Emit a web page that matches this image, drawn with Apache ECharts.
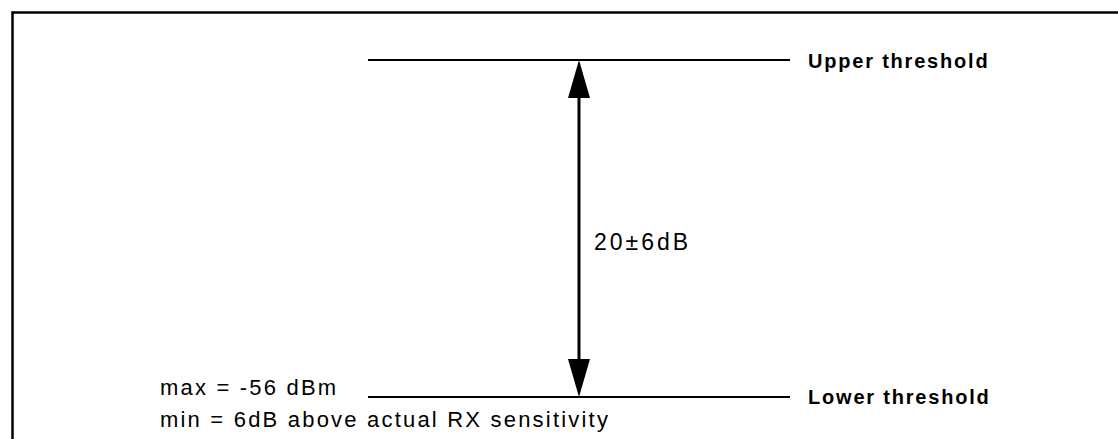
<!DOCTYPE html>
<html>
<head>
<meta charset="utf-8">
<script src="https://cdn.jsdelivr.net/npm/echarts@6/dist/echarts.min.js"></script>
<style>
  html, body { margin: 0; padding: 0; background: #fff; }
  #chart { width: 1118px; height: 439px; }
  #chart svg text { letter-spacing: 2.2px; }
  #chart svg text[style*="bold"] { letter-spacing: 1.8px; }
  #chart svg text[style*="23px"] { letter-spacing: 3px; }
</style>
</head>
<body>
<div id="chart"></div>
<script>
// ---- data ----
const thresholdNames = ['Upper threshold', 'Lower threshold'];
const thresholdValues = [20, 0];          // relative level, dB (lower threshold = 0)
const lineSpan = [0, 1];                  // horizontal extent of the threshold lines
const arrowPosition = [0.5];              // where the double arrow sits on the lines
const arrowLabel = ['20\u00B16dB'];
const lowerNotes = ['max = -56 dBm', 'min = 6dB above actual RX sensitivity'];

const chart = echarts.init(document.getElementById('chart'), null, { renderer: 'svg' });

const FONT = 'Liberation Sans, Arial, Helvetica, sans-serif';

const lineSeries = thresholdNames.map((name, i) => ({
  type: 'line',
  name: name,
  data: lineSpan.map(x => [x, thresholdValues[i]]),
  symbol: 'none',
  silent: true,
  animation: false,
  lineStyle: { color: '#000', width: 2 },
  endLabel: {
    show: true,
    formatter: name,
    distance: 18,
    offset: [0, i === 0 ? 1 : 0],
    color: '#000',
    fontFamily: FONT,
    fontWeight: 'bold',
    fontSize: 20
  }
}));

const arrowSeries = {
  type: 'custom',
  silent: true,
  animation: false,
  clip: false,
  data: arrowPosition.map(x => [x, thresholdValues[1], thresholdValues[0]]),
  renderItem: function (params, api) {
    const x = api.value(0);
    const pLow = api.coord([x, api.value(1)]);
    const pHigh = api.coord([x, api.value(2)]);
    const headH = 38, headW = 11;
    const children = [
      { type: 'line', shape: { x1: pHigh[0], y1: pHigh[1] + headH - 2, x2: pLow[0], y2: pLow[1] - headH + 2 },
        style: { stroke: '#000', lineWidth: 3 } },
      { type: 'polygon', shape: { points: [[pHigh[0], pHigh[1]], [pHigh[0] - headW, pHigh[1] + headH], [pHigh[0] + headW, pHigh[1] + headH]] },
        style: { fill: '#000' } },
      { type: 'polygon', shape: { points: [[pLow[0], pLow[1]], [pLow[0] - headW, pLow[1] - headH], [pLow[0] + headW, pLow[1] - headH]] },
        style: { fill: '#000' } },
      { type: 'text', x: pHigh[0] + 15, y: (pHigh[1] + pLow[1]) / 2 + 13,
        style: { text: arrowLabel[params.dataIndex], fill: '#000', font: '23px ' + FONT, textAlign: 'left', textVerticalAlign: 'middle' } }
    ];
    // notes to the left of the lower threshold line
    const start = api.coord([lineSpan[0], thresholdValues[1]]);
    lowerNotes.forEach((t, k) => {
      children.push({ type: 'text', x: start[0] - 208, y: start[1] - 10 + k * 32,
        style: { text: t, fill: '#000', font: '22px ' + FONT, textAlign: 'left', textVerticalAlign: 'middle' } });
    });
    return { type: 'group', children: children };
  }
};

chart.setOption({
  backgroundColor: '#fff',
  animation: false,
  grid: { left: 368, right: 328, top: 60, bottom: 42 },
  xAxis: { type: 'value', min: 0, max: 1, show: false },
  yAxis: { type: 'value', min: 0, max: 20, show: false },
  graphic: [{
    type: 'rect', left: 10, top: 10, silent: true,
    shape: { width: 1200, height: 600 },
    style: { fill: 'none', stroke: '#000', lineWidth: 2.5 }
  }],
  series: lineSeries.concat([arrowSeries])
});
</script>
</body>
</html>
